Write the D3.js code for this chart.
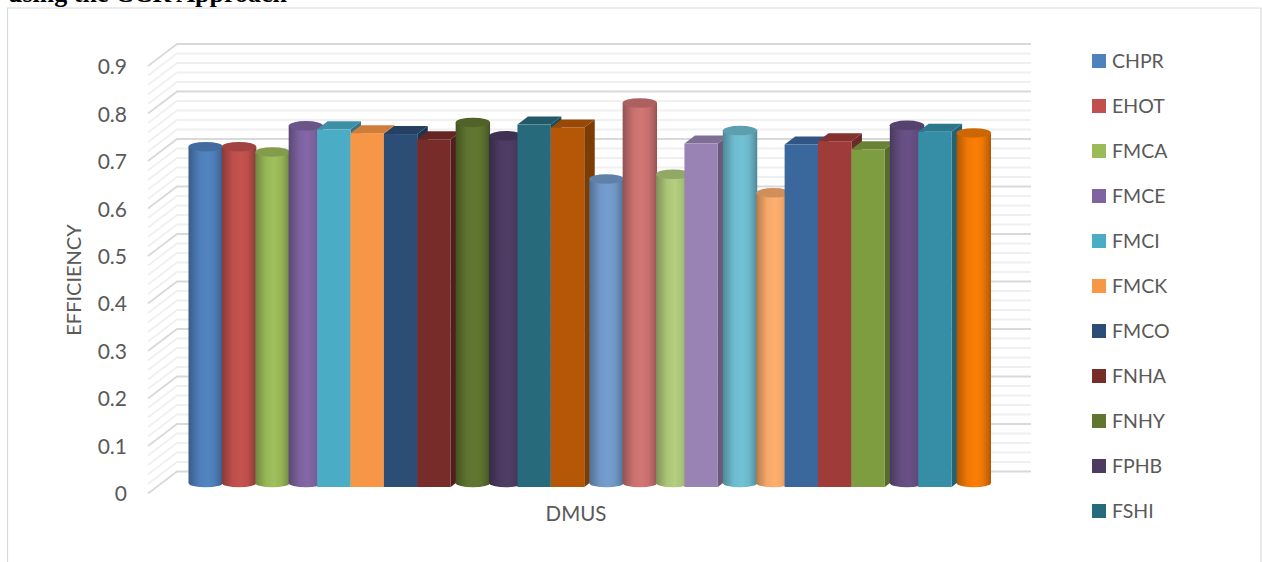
<!DOCTYPE html>
<html>
<head>
<meta charset="utf-8">
<script src="https://cdn.jsdelivr.net/npm/d3@7"></script>
<style>
  html, body { margin: 0; padding: 0; background: #fff; overflow: hidden; }
  svg { display: block; }
</style>
</head>
<body>
<svg id="chart" width="1262" height="562"></svg>
<script>
// Efficiency per DMU, in drawing order from left to right
const values = [0.708, 0.708, 0.697, 0.752, 0.753, 0.745, 0.743, 0.732, 0.759, 0.731, 0.763, 0.757,
                0.640, 0.800, 0.650, 0.723, 0.742, 0.611, 0.721, 0.728, 0.711, 0.753, 0.748, 0.737];
const shapes = ["cyl", "cyl", "cyl", "cyl", "box", "box", "box", "box", "cyl", "cyl", "box", "box",
                "cyl", "cyl", "cyl", "box", "cyl", "cyl", "box", "box", "box", "cyl", "box", "cyl"];
const colors = ["#4f81bd", "#c0504d", "#9bbb59", "#8064a2", "#4bacc6", "#f79646",
                "#2c4d75", "#772c2a", "#5f7530", "#4d3b62", "#276a7c", "#b65708",
                "#729aca", "#cd7371", "#afc97a", "#9983b5", "#6fbdd1", "#f9ab6b",
                "#3a679c", "#9f3b38", "#7e9c40", "#664f83", "#358ea6", "#f57a06"];
const legendLabels = ["CHPR", "EHOT", "FMCA", "FMCE", "FMCI", "FMCK", "FMCO", "FNHA", "FNHY", "FPHB", "FSHI"];
const axisTicks = [0, 0.1, 0.2, 0.3, 0.4, 0.5, 0.6, 0.7, 0.8, 0.9];
const minorTicks = d3.range(0, 46).map(i => i / 50);

const FONT = "Lato, 'Open Sans', sans-serif";
const INK = "#595959";

const svg = d3.select("#chart");
const defs = svg.append("defs");

// Back wall of the 3D plot box, and the front edge that carries the labels
const yBack = d3.scaleLinear().domain([0, 0.9]).range([471.5, 44]);
const yFront = d3.scaleLinear().domain([0, 0.9]).range([493.5, 66]);
const yLabel = d3.scaleLinear().domain([0, 0.9]).range([494, 67]);
const wallLeft = 177, wallRight = 1031, frontLeft = 148;

// One slot per bar across the floor
const x = d3.scaleBand().domain(d3.range(values.length)).range([183.5, 985]).paddingInner(0).paddingOuter(0);

// Chart frame, cut off by the page edge at the bottom
svg.append("path")
  .attr("d", "M7.5,562V8H1261V562")
  .attr("fill", "none").attr("stroke", "#d9d9d9").attr("stroke-width", 1.2);

// Caption line running off the top of the page
svg.append("text")
  .attr("x", 8).attr("y", 2)
  .attr("font-family", "'Liberation Serif', serif").attr("font-weight", "bold")
  .attr("font-size", 26).attr("fill", "#000")
  .text("using the CCR Approach");

// Gridlines on the back and side walls
const grid = svg.append("g").attr("fill", "none");
minorTicks.forEach((d, i) => {
  const major = i % 5 === 0;
  grid.append("path")
    .attr("d", d3.line()([[frontLeft, yFront(d)], [wallLeft, yBack(d)], [wallRight, yBack(d)]]))
    .attr("stroke", major ? "#d9d9d9" : "#f0f0f0")
    .attr("stroke-width", 1.8);
});

// Value axis labels
const axis = svg.append("g")
  .attr("transform", "translate(127,0)")
  .call(d3.axisLeft(yLabel).tickValues(axisTicks).tickSize(0).tickPadding(0).tickFormat(d3.format("~g")));
axis.select(".domain").remove();
axis.selectAll("text")
  .attr("font-family", FONT).attr("font-size", 21).attr("fill", INK);

// Horizontal shading for the cylinders
colors.forEach((c, i) => {
  const base = d3.color(c);
  const g = defs.append("linearGradient").attr("id", "shade" + i);
  [[0, 0.95], [0.12, 0.55], [0.32, 0.05], [0.55, -0.08], [0.75, 0.08], [0.9, 0.5], [1, 0.95]].forEach(([o, k]) => {
    g.append("stop").attr("offset", o)
      .attr("stop-color", k >= 0 ? base.darker(k).formatHex() : base.brighter(-k).formatHex());
  });
});

// Bars, later ones painted over earlier ones
const BOX_DX = 10.5, BOX_DY = 8;
const BOX_BASE = 15.5, CYL_BASE = 11.5;
const RX = 17.2, RY = 4.8;
const bars = svg.append("g");

values.forEach((v, i) => {
  const c = d3.color(colors[i]);
  const w = x.bandwidth();
  const left = x(i);
  if (shapes[i] === "box") {
    const top = yBack(v) + BOX_BASE;
    const bottom = yBack(0) + BOX_BASE;
    const g = bars.append("g");
    g.append("path")
      .attr("d", `M${left + w},${top}l${BOX_DX},${-BOX_DY}V${bottom - BOX_DY}L${left + w},${bottom}Z`)
      .attr("fill", c.darker(1.05).formatHex());
    g.append("path")
      .attr("d", `M${left},${top}l${BOX_DX},${-BOX_DY}h${w}l${-BOX_DX},${BOX_DY}Z`)
      .attr("fill", c.darker(0.5).formatHex());
    g.append("rect")
      .attr("x", left).attr("y", top).attr("width", w).attr("height", bottom - top)
      .attr("fill", c.formatHex());
  } else {
    const cx = left + w / 2 + 5.5;
    const top = yBack(v) + CYL_BASE;
    const bottom = yBack(0) + CYL_BASE;
    const g = bars.append("g");
    g.append("path")
      .attr("d", `M${cx - RX},${top}V${bottom}A${RX},${4.3} 0 0 0 ${cx + RX},${bottom}V${top}Z`)
      .attr("fill", `url(#shade${i})`);
    g.append("ellipse")
      .attr("cx", cx).attr("cy", top).attr("rx", RX).attr("ry", RY)
      .attr("fill", c.darker(0.5).formatHex());
  }
});

// Axis titles
svg.append("text")
  .attr("transform", "translate(81,280) rotate(-90)")
  .attr("text-anchor", "middle")
  .attr("font-family", FONT).attr("font-size", 20).attr("fill", INK)
  .text("EFFICIENCY");
svg.append("text")
  .attr("x", 576).attr("y", 521)
  .attr("text-anchor", "middle")
  .attr("font-family", FONT).attr("font-size", 20.5).attr("fill", INK)
  .text("DMUS");

// Legend
const legendY = d3.scalePoint().domain(legendLabels).range([61, 511]);
const legend = svg.append("g").selectAll("g").data(legendLabels).join("g")
  .attr("transform", d => `translate(1092,${legendY(d)})`);
legend.append("rect")
  .attr("x", 0).attr("y", -7).attr("width", 14).attr("height", 14)
  .attr("fill", (d, i) => colors[i]);
legend.append("text")
  .attr("x", 20).attr("y", 0).attr("dy", "0.35em")
  .attr("font-family", FONT).attr("font-size", 19.5).attr("fill", INK)
  .text(d => d);
</script>
</body>
</html>
